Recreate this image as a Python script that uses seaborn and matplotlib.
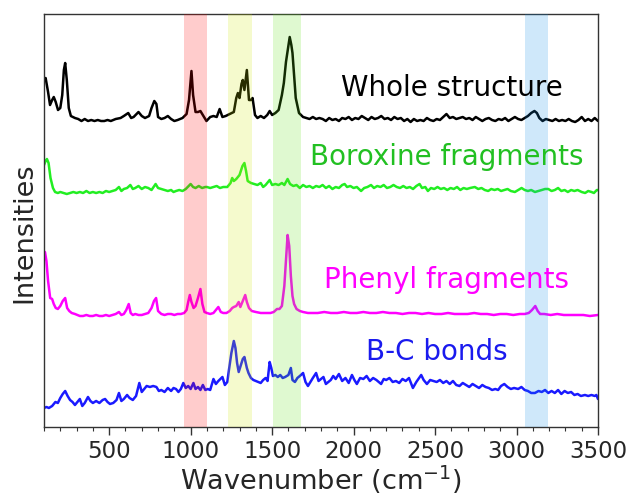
import numpy as np
import pandas as pd
import matplotlib
matplotlib.use("Agg")
import matplotlib.pyplot as plt
from matplotlib.ticker import MultipleLocator
import seaborn as sns

# ----------------------------------------------
# Spectra (intensity above each trace's own baseline)
# ----------------------------------------------
whole_x = [100, 110, 125, 137, 150, 160, 172, 186, 200, 212, 222, 230, 240, 252, 265, 290,
           310, 330, 350, 370, 390, 410, 430, 450, 470, 490, 510, 540, 570, 590, 617, 635,
           650, 680, 700, 720, 745, 760, 777, 790, 800, 820, 840, 860, 880, 900, 920, 950,
           975, 990, 1005, 1015, 1030, 1045, 1060, 1075, 1097, 1120, 1140, 1160, 1178, 1195,
           1215, 1240, 1265, 1280, 1290, 1300, 1312, 1320, 1330, 1345, 1358, 1370, 1380, 1395,
           1410, 1430, 1450, 1470, 1485, 1500, 1520, 1540, 1560, 1572, 1585, 1596, 1608, 1618,
           1625, 1635, 1645, 1665, 1690, 1710, 1730, 1750, 1770, 1790,
           1810, 1830, 1850, 1870, 1890, 1910, 1930, 1950, 1970, 1990, 2010, 2030, 2050, 2070,
           2090, 2110, 2130, 2150, 2170, 2190, 2210, 2230, 2250, 2270, 2290, 2310, 2330, 2350,
           2370, 2390, 2410, 2430, 2450, 2470, 2490, 2510, 2530, 2550, 2570, 2590, 2610, 2630,
           2650, 2670, 2690, 2710, 2730, 2750, 2770, 2790, 2810, 2830, 2850, 2870, 2890, 2910,
           2930, 2950, 2970, 2990, 3010, 3030, 3050, 3070, 3090, 3110, 3125, 3140, 3160, 3180,
           3200, 3220, 3240, 3260, 3280, 3300, 3320, 3340, 3360, 3380, 3400, 3420, 3440, 3460,
           3480, 3500]
whole_y = [40, 42, 28, 15, 20, 23, 18, 10, 12, 25, 50, 57, 40, 12, 4, 2,
           1, -1, 1, -1, 0, -1, 0, -1, -1, 0, -1, 1, 2, 4, 7, 2,
           3, 8, 4, 2, 4, 12, 19, 16, 3, 1, 2, 4, 1, -1, 0, 2,
           6, 20, 49, 25, 8, 8, 9, 5, -1, 3, 4, 3, 11, 3,
           4, 6, 8, 22, 27, 22, 36, 40, 30, 50, 20, 20, 22, 5,
           2, 4, 2, 5, 9, 5, 7, 10, 25, 37, 58, 70, 83, 75,
           67, 45, 22, 7, 3, 2, 1, 3, 1, 2,
           1, -1, 2, 0, 1, -1, 2, 1, 3, 0, 2, 1, 4, 2,
           0, 3, 1, 2, 4, 1, 2, 0, 3, 1, 2, -1, 1, -2,
           1, -1, 0, -1, 2, 0, -1, 1, 0, 3, 6, 2, 3, 1,
           2, 3, 1, 2, 0, 3, 1, -1, 1, 2, 0, -1, 1, 0,
           2, -1, 1, 3, 1, 0, 2, 4, 7, 9, 7, 2, -1, 1,
           0, -1, 1, -1, 0, -1, 1, -1, -2, 0, 3, -1, 1, -1,
           2, -1]

borox_x = [100, 110, 118, 128, 140, 155, 168, 185, 200, 220, 240, 260, 280, 300, 320, 340,
           360, 380, 400, 420, 440, 460, 480, 500, 520, 540, 560, 575, 590, 610, 630, 645,
           660, 680, 700, 720, 740, 760, 785, 800, 820, 840, 860, 880, 895, 910, 930, 950,
           970, 1000, 1015, 1030, 1050, 1070, 1090, 1100, 1120, 1140, 1160, 1180, 1200, 1225,
           1245, 1255, 1265, 1280, 1300, 1318, 1330, 1340, 1350, 1370, 1390, 1410, 1430, 1445,
           1460, 1485, 1500, 1520, 1540, 1560, 1575, 1595, 1610, 1630, 1650, 1670, 1690, 1710,
           1730, 1750, 1770, 1790, 1810,
           1830, 1850, 1870, 1890, 1910, 1930, 1945, 1960, 1980, 2000, 2020, 2046, 2065, 2085,
           2107, 2125, 2145, 2165, 2185, 2205, 2225, 2245, 2265, 2285, 2305, 2325, 2345, 2365,
           2385, 2405, 2420, 2440, 2456, 2475, 2495, 2515, 2535, 2555, 2575, 2595, 2615, 2635,
           2655, 2675, 2695, 2715, 2744, 2765, 2785, 2805, 2826, 2845, 2865, 2885, 2905, 2925,
           2945, 2965, 2990, 3010, 3031, 3050, 3070, 3090, 3113, 3135, 3155, 3175, 3195, 3215,
           3235, 3255, 3275, 3295, 3315, 3335, 3355, 3375, 3400, 3421, 3440, 3460, 3475, 3493,
           3500]
borox_y = [28, 32, 34, 30, 15, 5, 1, 0, 1, 0, -1, 0, 1, 0, 1, 0,
           2, 0, 1, 0, 1, 0, 2, 1, 2, 3, 6, 2, 4, 5, 8, 4,
           5, 7, 4, 6, 5, 3, 9, 5, 4, 3, 2, 3, 1, 2, 3, 2,
           4, 9, 6, 5, 7, 5, 6, 6, 5, 6, 7, 5, 6, 6,
           10, 15, 12, 14, 18, 27, 30, 22, 12, 10, 9, 8, 10, 6,
           8, 13, 8, 9, 8, 10, 8, 14, 9, 7, 8, 5, 8, 6,
           7, 5, 7, 6, 8,
           5, 7, 4, 6, 5, 8, 9, 6, 7, 5, 6, 2, 5, 6,
           8, 5, 7, 6, 8, 5, 6, 8, 6, 5, 7, 5, 6, 4,
           7, 9, 5, 6, 2, 5, 4, 6, 4, 5, 3, 5, 4, 6,
           3, 5, 4, 5, 6, 4, 5, 3, 2, 4, 3, 4, 2, 3,
           4, 2, 1, 3, 5, 3, 2, 3, 1, 2, 3, 4, 4, 2,
           3, 5, 2, 3, 1, 3, 2, 3, 1, 0, 2, 1, 0, 3,
           3]

phenyl_x = [100, 106, 115, 125, 138, 150, 160, 172, 185, 200, 215, 230, 242, 255, 270, 290,
            320, 340, 360, 380, 400, 420, 440, 460, 480, 500, 520, 540, 560, 575, 590, 605,
            620, 632, 645, 660, 680, 700, 720, 740, 760, 775, 788, 800, 820, 840, 860, 880,
            900, 920, 940, 960, 975, 985, 995, 1005, 1018, 1030, 1045, 1060, 1072, 1085,
            1100, 1120, 1140, 1155, 1170, 1185, 1200, 1220, 1240, 1255, 1265, 1280, 1295, 1305,
            1320, 1335, 1345, 1358, 1375, 1400, 1430, 1460, 1490, 1510, 1530, 1545, 1560, 1575,
            1585, 1595, 1605, 1615, 1625, 1635, 1650, 1670, 1690, 1720, 1750,
            1780, 1820, 1860, 1900, 1940, 1980, 2020, 2060, 2100, 2140, 2180, 2220, 2260, 2300,
            2340, 2380, 2420, 2460, 2500, 2540, 2580, 2620, 2660, 2700, 2740, 2780, 2820, 2860,
            2900, 2940, 2980, 3020, 3050, 3075, 3095, 3115, 3130, 3145, 3170, 3210, 3250, 3290,
            3330, 3370, 3410, 3450, 3500]
phenyl_y = [62, 64, 55, 35, 18, 17, 12, 8, 7, 10, 15, 18, 8, 5, 3, 2,
            0, 0, 1, 0, 0, 1, 0, 0, 1, 0, 1, 2, 4, 1, 2, 6,
            12, 3, 1, 2, 1, 1, 2, 3, 8, 15, 18, 5, 2, 1, 2, 2,
            1, 2, 2, 3, 6, 14, 21, 14, 8, 10, 18, 27, 12, 4,
            3, 2, 3, 6, 9, 4, 3, 3, 5, 8, 9, 10, 14, 9,
            15, 21, 14, 8, 5, 4, 3, 3, 3, 4, 7, 7, 10, 30,
            55, 81, 70, 40, 20, 12, 7, 5, 4, 3, 3,
            3, 4, 3, 3, 4, 3, 3, 4, 3, 3, 4, 3, 3, 2,
            3, 3, 2, 3, 2, 2, 3, 2, 2, 2, 3, 2, 2, 1,
            2, 2, 1, 2, 2, 3, 6, 10, 5, 2, 2, 1, 2, 1,
            1, 1, 1, 0, 1]

bc_x = [100, 115, 130, 150, 170, 185, 200, 215, 230, 245, 260, 275, 290, 305, 320, 335,
        350, 370, 385, 400, 420, 440, 460, 475, 490, 505, 525, 545, 560, 575, 590, 610,
        625, 645, 665, 685, 700, 715, 730, 750, 770, 790, 805, 820, 840, 860, 880, 895,
        910, 925, 940, 955, 970, 985, 1000, 1017, 1030, 1045, 1060, 1075, 1090, 1105,
        1120, 1140, 1155, 1170, 1195, 1210, 1225, 1235, 1250, 1265, 1275, 1285, 1295, 1310,
        1320, 1330, 1345, 1355, 1370, 1385, 1400, 1415, 1430, 1445, 1460, 1472, 1485, 1495,
        1505, 1520, 1535, 1550, 1565, 1580, 1600, 1615, 1625, 1640, 1655, 1670, 1690, 1705,
        1720, 1735, 1750, 1770, 1785, 1800, 1815, 1830, 1845, 1860, 1875, 1890, 1910,
        1930, 1950, 1970, 1990, 2005, 2020, 2040, 2060, 2080, 2100, 2120, 2140, 2169, 2185,
        2200, 2220, 2240, 2260, 2280, 2300, 2320, 2340, 2364, 2385, 2415, 2430, 2450, 2470,
        2490, 2510, 2530, 2550, 2570, 2590, 2610, 2630, 2650, 2670, 2690, 2710, 2730, 2750,
        2770, 2790, 2810, 2830, 2850, 2870, 2887, 2905, 2925, 2945, 2965, 2985, 3010, 3030,
        3050, 3070, 3090, 3113, 3135, 3155, 3175, 3195, 3215, 3235, 3255, 3275, 3295, 3315,
        3335, 3355, 3375, 3395, 3420, 3440, 3460, 3480, 3490, 3500]
bc_y = [0, 1, 0, 2, 6, 5, 10, 14, 17, 12, 8, 6, 3, 6, 9, 2,
        5, 11, 7, 5, 7, 5, 8, 9, 6, 4, 5, 8, 15, 7, 9, 13,
        10, 8, 12, 25, 16, 19, 22, 21, 22, 21, 17, 18, 16, 20, 17, 20,
        19, 16, 19, 25, 20, 22, 19, 25, 19, 21, 18, 23, 18, 19,
        18, 29, 24, 27, 31, 23, 26, 38, 55, 67, 60, 45, 36, 44,
        49, 51, 40, 35, 30, 28, 27, 26, 25, 28, 30, 27, 46, 40,
        32, 33, 31, 33, 30, 31, 33, 40, 28, 26, 30, 32, 35, 26,
        22, 26, 30, 35, 27, 29, 31, 24, 26, 28, 32, 29, 34,
        27, 30, 25, 33, 28, 24, 30, 29, 32, 27, 30, 28, 24, 29,
        28, 30, 26, 27, 25, 29, 27, 30, 20, 26, 33, 28, 24, 28,
        27, 26, 28, 25, 27, 24, 27, 23, 22, 25, 23, 21, 24, 22,
        20, 23, 21, 20, 18, 19, 18, 22, 24, 21, 19, 20, 19, 21,
        18, 17, 15, 15, 17, 16, 18, 15, 17, 15, 18, 14, 17, 15,
        16, 13, 14, 12, 13, 12, 13, 12, 13, 9]

labels  = ["Whole structure", "Boroxine fragments", "Phenyl fragments", "B-C bonds"]
offsets = [307, 234, 111, 19]

line_colors = ["#000000", "#22ee22", "#ff00ff", "#1a1aff"]
text_colors = ["#000000", "#22c022", "#ff00ff", "#1a1aee"]

# highlighted bands (cm^-1)
band_lo     = [960, 1232, 1503, 3055]
band_hi     = [1100, 1375, 1677, 3195]
band_colors = ["#ff0000", "#cde605", "#5fe114", "#0f8ce6"]

# ----------------------------------------------
# Build long table
# ----------------------------------------------
frames = []
for name, xs, ys, off in zip(labels,
                             [whole_x, borox_x, phenyl_x, bc_x],
                             [whole_y, borox_y, phenyl_y, bc_y],
                             offsets):
    frames.append(pd.DataFrame({"wavenumber": xs,
                                "intensity": np.array(ys, dtype=float) + off,
                                "sample": name}))
df = pd.concat(frames, ignore_index=True)

# ----------------------------------------------
# Plot
# ----------------------------------------------
sns.set_style("white")
plt.rcParams["font.family"] = ["DejaVu Sans"]

fig = plt.figure(figsize=(6.33, 4.95), dpi=100)
ax = fig.add_axes([0.0695, 0.1374, 0.8752, 0.8343])

sns.lineplot(data=df, x="wavenumber", y="intensity", hue="sample",
             palette=dict(zip(labels, line_colors)), estimator=None, sort=False,
             lw=1.8, legend=False, ax=ax, zorder=2)

for lo, hi, c in zip(band_lo, band_hi, band_colors):
    ax.axvspan(lo, hi, color=c, alpha=0.2, lw=0, zorder=3)

label_x = [2606, 2569, 2569, 2508]
label_y = [339, 270, 147, 75]
for txt, lx, ly, c in zip(labels, label_x, label_y, text_colors):
    ax.text(lx, ly, txt, color=c, fontsize=20, ha="center", va="center", zorder=4)

ax.set_xlim(100, 3500)
ax.set_ylim(0, 413)
ax.set_yticks([])
ax.xaxis.set_major_locator(MultipleLocator(500))
ax.xaxis.set_minor_locator(MultipleLocator(100))
ax.tick_params(axis="x", which="major", direction="out", length=6, width=1,
               bottom=True, labelsize=16.5, color="#333333")
ax.tick_params(axis="x", which="minor", direction="out", length=3, width=0.8,
               bottom=True, color="#333333")
ax.set_xlabel("Wavenumber (cm$^{-1}$)", fontsize=19.5, labelpad=0)
ax.set_ylabel("Intensities", fontsize=19.5)
ax.yaxis.set_label_coords(-0.012, 0.47)
for s in ax.spines.values():
    s.set_color("#333333")
    s.set_linewidth(1)

fig.savefig("out.png", dpi=100)
plt.close(fig)
